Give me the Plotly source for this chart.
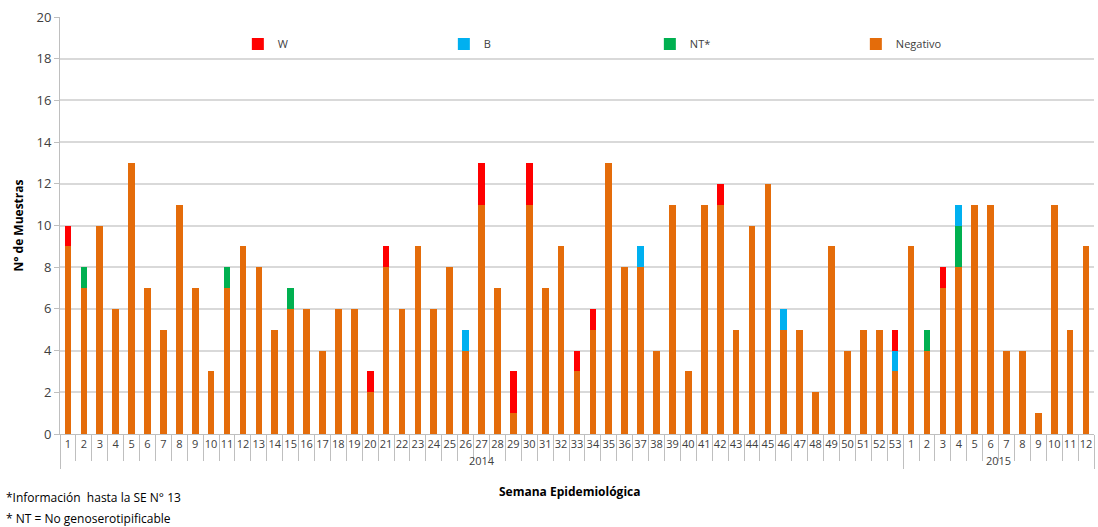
import plotly.graph_objects as go

weeks_2014 = [str(i) for i in range(1, 54)]
weeks_2015 = [str(i) for i in range(1, 13)]

neg_2014 = [9, 7, 10, 6, 13, 7, 5, 11, 7, 3, 7, 9, 8, 5, 6, 6, 4, 6, 6, 2,
            8, 6, 9, 6, 8, 4, 11, 7, 1, 11, 7, 9, 3, 5, 13, 8, 8, 4, 11, 3,
            11, 11, 5, 10, 12, 5, 5, 2, 9, 4, 5, 5, 3]
nt_2014 = [0, 1, 0, 0, 0, 0, 0, 0, 0, 0, 1, 0, 0, 0, 1, 0, 0, 0, 0, 0,
           0, 0, 0, 0, 0, 0, 0, 0, 0, 0, 0, 0, 0, 0, 0, 0, 0, 0, 0, 0,
           0, 0, 0, 0, 0, 0, 0, 0, 0, 0, 0, 0, 0]
b_2014 = [0, 0, 0, 0, 0, 0, 0, 0, 0, 0, 0, 0, 0, 0, 0, 0, 0, 0, 0, 0,
          0, 0, 0, 0, 0, 1, 0, 0, 0, 0, 0, 0, 0, 0, 0, 0, 1, 0, 0, 0,
          0, 0, 0, 0, 0, 1, 0, 0, 0, 0, 0, 0, 1]
w_2014 = [1, 0, 0, 0, 0, 0, 0, 0, 0, 0, 0, 0, 0, 0, 0, 0, 0, 0, 0, 1,
          1, 0, 0, 0, 0, 0, 2, 0, 2, 2, 0, 0, 1, 1, 0, 0, 0, 0, 0, 0,
          0, 1, 0, 0, 0, 0, 0, 0, 0, 0, 0, 0, 1]

neg_2015 = [9, 4, 7, 8, 11, 11, 4, 4, 1, 11, 5, 9]
nt_2015 = [0, 1, 0, 2, 0, 0, 0, 0, 0, 0, 0, 0]
b_2015 = [0, 0, 0, 1, 0, 0, 0, 0, 0, 0, 0, 0]
w_2015 = [0, 0, 1, 0, 0, 0, 0, 0, 0, 0, 0, 0]

years = ["2014"] * len(weeks_2014) + ["2015"] * len(weeks_2015)
weeks = weeks_2014 + weeks_2015
x = [years, weeks]

series = [
    ("Negativo", neg_2014 + neg_2015, "#E46C0A"),
    ("NT*", nt_2014 + nt_2015, "#00B050"),
    ("B", b_2014 + b_2015, "#00B0F0"),
    ("W", w_2014 + w_2015, "#FF0000"),
]

FONT = "Open Sans"
fig = go.Figure()
for name, vals, color in series:
    fig.add_trace(go.Bar(
        name=name, x=x, y=vals,
        marker=dict(color=color, line=dict(width=0)),
    ))

fig.update_layout(
    width=1098, height=527,
    barmode="stack", bargap=0.58,
    paper_bgcolor="white", plot_bgcolor="white",
    margin=dict(l=60, r=4, t=17, b=93, autoexpand=False),
    font=dict(family=FONT, size=12, color="#404040"),
    legend=dict(
        orientation="h", traceorder="reversed",
        x=0.172, xanchor="left", y=0.935, yanchor="middle",
        entrywidth=161, entrywidthmode="pixels",
        font=dict(size=11, color="#404040"),
        itemwidth=30, bgcolor="rgba(0,0,0,0)",
    ),
    showlegend=True,
)

fig.update_yaxes(
    range=[0, 20], dtick=2, showgrid=True, gridcolor="#D9D9D9", gridwidth=1.5,
    showline=True, linecolor="#BFBFBF", linewidth=1, zeroline=False,
    ticks="outside", ticklen=5, tickcolor="#BFBFBF", automargin=False,
    tickfont=dict(size=13, color="#404040", family=FONT),
    title=dict(text="<b>N° de Muestras</b>", font=dict(size=12, color="#000000", family=FONT), standoff=10),
)

fig.update_xaxes(
    type="multicategory", automargin=False,
    showline=True, linecolor="#BFBFBF", linewidth=1,
    ticks="outside", tickson="boundaries", ticklen=26, tickcolor="#BFBFBF",
    showdividers=True, dividercolor="#BFBFBF", dividerwidth=1,
    tickangle=0,
    tickfont=dict(size=11, color="#404040", family=FONT),
    range=[-0.5, 64.5],
)

fig.add_annotation(
    text="<b>Semana Epidemiológica</b>", xref="paper", yref="paper",
    x=0.493, y=-0.139, xanchor="center", yanchor="middle", showarrow=False,
    font=dict(size=12, color="#000000", family=FONT),
)
fig.add_annotation(
    text="*Información  hasta la SE N° 13", xref="paper", yref="paper",
    x=-0.054, y=-0.153, xanchor="left", yanchor="middle", showarrow=False,
    font=dict(size=12, color="#000000", family=FONT),
)
fig.add_annotation(
    text="* NT = No genoserotipificable", xref="paper", yref="paper",
    x=-0.054, y=-0.203, xanchor="left", yanchor="middle", showarrow=False,
    font=dict(size=12, color="#000000", family=FONT),
)

# remove the browser's default 8px body margin so the figure sits at (0, 0)
fig.write_html("out.html", config={"displayModeBar": False},
               post_script="document.body.style.margin='0';")
